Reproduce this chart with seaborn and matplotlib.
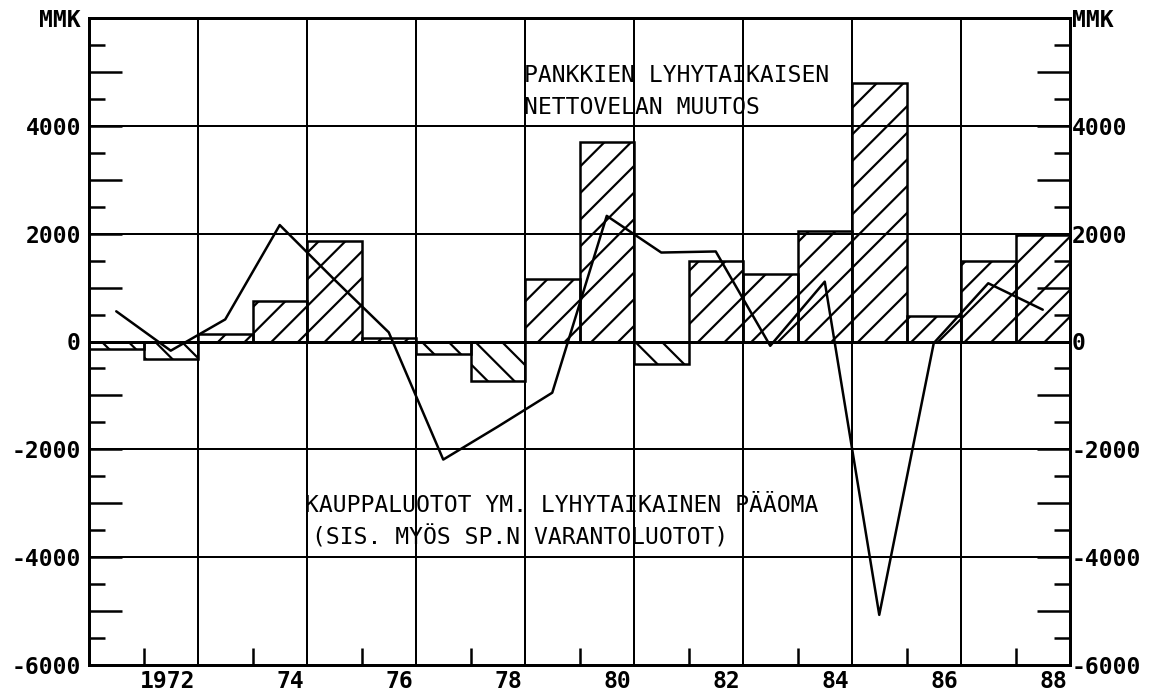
import numpy as np
import pandas as pd
import matplotlib
matplotlib.use("Agg")
import matplotlib.pyplot as plt
import matplotlib.transforms as mtransforms
from matplotlib.ticker import FuncFormatter
import seaborn as sns

# data (MMK)
years = list(range(1971, 1989))
bank_debt_change = [-130, -330, 130, 760, 1870, 70, -240, -740, 1150, 3700,
                    -420, 1490, 1250, 2050, 4800, 480, 1490, 1980]
trade_credit = [560, -170, 410, 2160, 1150, 170, -2190, -1580, -950, 2330,
                1650, 1670, -80, 1110, -5070, -30, 1080, 590]

label_years = [1972, 1974, 1976, 1978, 1980, 1982, 1984, 1986, 1988]
x_labels = ["1972", "74", "76", "78", "80", "82", "84", "86", "88"]

# high dpi so the hatch spacing comes out as wide as in the original
W, H = 1156, 697
DPI = 160
P = 72 / DPI  # points per pixel
FS = 23 * P

sns.set_theme(style="white")
plt.rcParams["font.family"] = ["DejaVu Sans Mono", "DejaVu Sans"]
plt.rcParams["hatch.linewidth"] = 2.2 * P
plt.rcParams["hatch.color"] = "black"
for key in ["text.color", "axes.labelcolor", "xtick.color", "ytick.color"]:
    plt.rcParams[key] = "black"

fig = plt.figure(figsize=(W / DPI, H / DPI), dpi=DPI)
ax = fig.add_axes([89 / W, (H - 665) / H, 981 / W, 647 / H])

df = pd.DataFrame({"year": years, "change": bank_debt_change})
sns.barplot(data=df, x="year", y="change", native_scale=True, width=1.0,
            fill=False, color="black", linewidth=2.5 * P, errorbar=None, ax=ax)
for patch, v in zip(ax.patches, bank_debt_change):
    patch.set_hatch("//" if v > 0 else "\\\\")
    patch.set_edgecolor("black")

sns.lineplot(x=years, y=trade_credit, color="black", linewidth=2.5 * P, ax=ax)

ax.set_xlim(1970.5, 1988.5)
ax.set_ylim(-6000, 6000)
ax.set_xlabel("")
ax.set_ylabel("")

# x axis: labels right-aligned at the gridlines, short ticks in between
ax.set_xticks([y + 0.5 for y in label_years], x_labels)
ax.set_xticks(np.arange(1971.5, 1988, 2), minor=True)
ax.tick_params(axis="x", which="major", length=0, pad=5 * P, labelsize=FS)
ax.tick_params(axis="x", which="minor", direction="in", length=17 * P,
               width=2.5 * P, bottom=True, top=False)
offset = mtransforms.ScaledTranslation(-3 / DPI, 0, fig.dpi_scale_trans)
for lab in ax.get_xticklabels():
    lab.set_ha("right")
    lab.set_fontweight("bold")
    lab.set_transform(lab.get_transform() + offset)
ax.grid(axis="x", which="major", color="black", linewidth=2 * P)
ax.grid(axis="y", visible=False)


def y_fmt(v, pos):
    v = int(round(v))
    if v == 6000:
        return "MMK"
    if v % 2000:
        return ""
    return str(v)


for v in range(-4000, 4001, 2000):
    ax.axhline(v, color="black", linewidth=(3 if v == 0 else 2) * P, zorder=0.8)

ax2 = ax.twinx()
ax2.set_ylim(-6000, 6000)
for a, side, pad in [(ax, "left", 8), (ax2, "right", 2)]:
    a.set_yticks(np.arange(-6000, 6001, 1000))
    a.set_yticks(np.arange(-5500, 6000, 1000), minor=True)
    a.yaxis.set_major_formatter(FuncFormatter(y_fmt))
    a.tick_params(axis="y", which="major", direction="in", length=33 * P,
                  width=2.5 * P, pad=pad * P, labelsize=FS,
                  left=(side == "left"), right=(side == "right"),
                  labelleft=(side == "left"), labelright=(side == "right"))
    a.tick_params(axis="y", which="minor", direction="in", length=16 * P,
                  width=2.5 * P, left=(side == "left"), right=(side == "right"))
    for lab in a.get_yticklabels():
        lab.set_fontweight("bold")
    for s in a.spines.values():
        s.set_linewidth(3 * P)
        s.set_color("black")
ax2.grid(False)

ax.text(1978.48, 4930, "PANKKIEN LYHYTAIKAISEN", fontsize=FS, va="center", ha="left")
ax.text(1978.48, 4340, "NETTOVELAN MUUTOS", fontsize=FS, va="center", ha="left")
ax.text(1974.47, -3040, "KAUPPALUOTOT YM. LYHYTAIKAINEN PÄÄOMA", fontsize=FS,
        va="center", ha="left")
ax.text(1974.6, -3650, "(SIS. MYÖS SP.N VARANTOLUOTOT)", fontsize=FS,
        va="center", ha="left")

fig.savefig("out.png", dpi=DPI)
